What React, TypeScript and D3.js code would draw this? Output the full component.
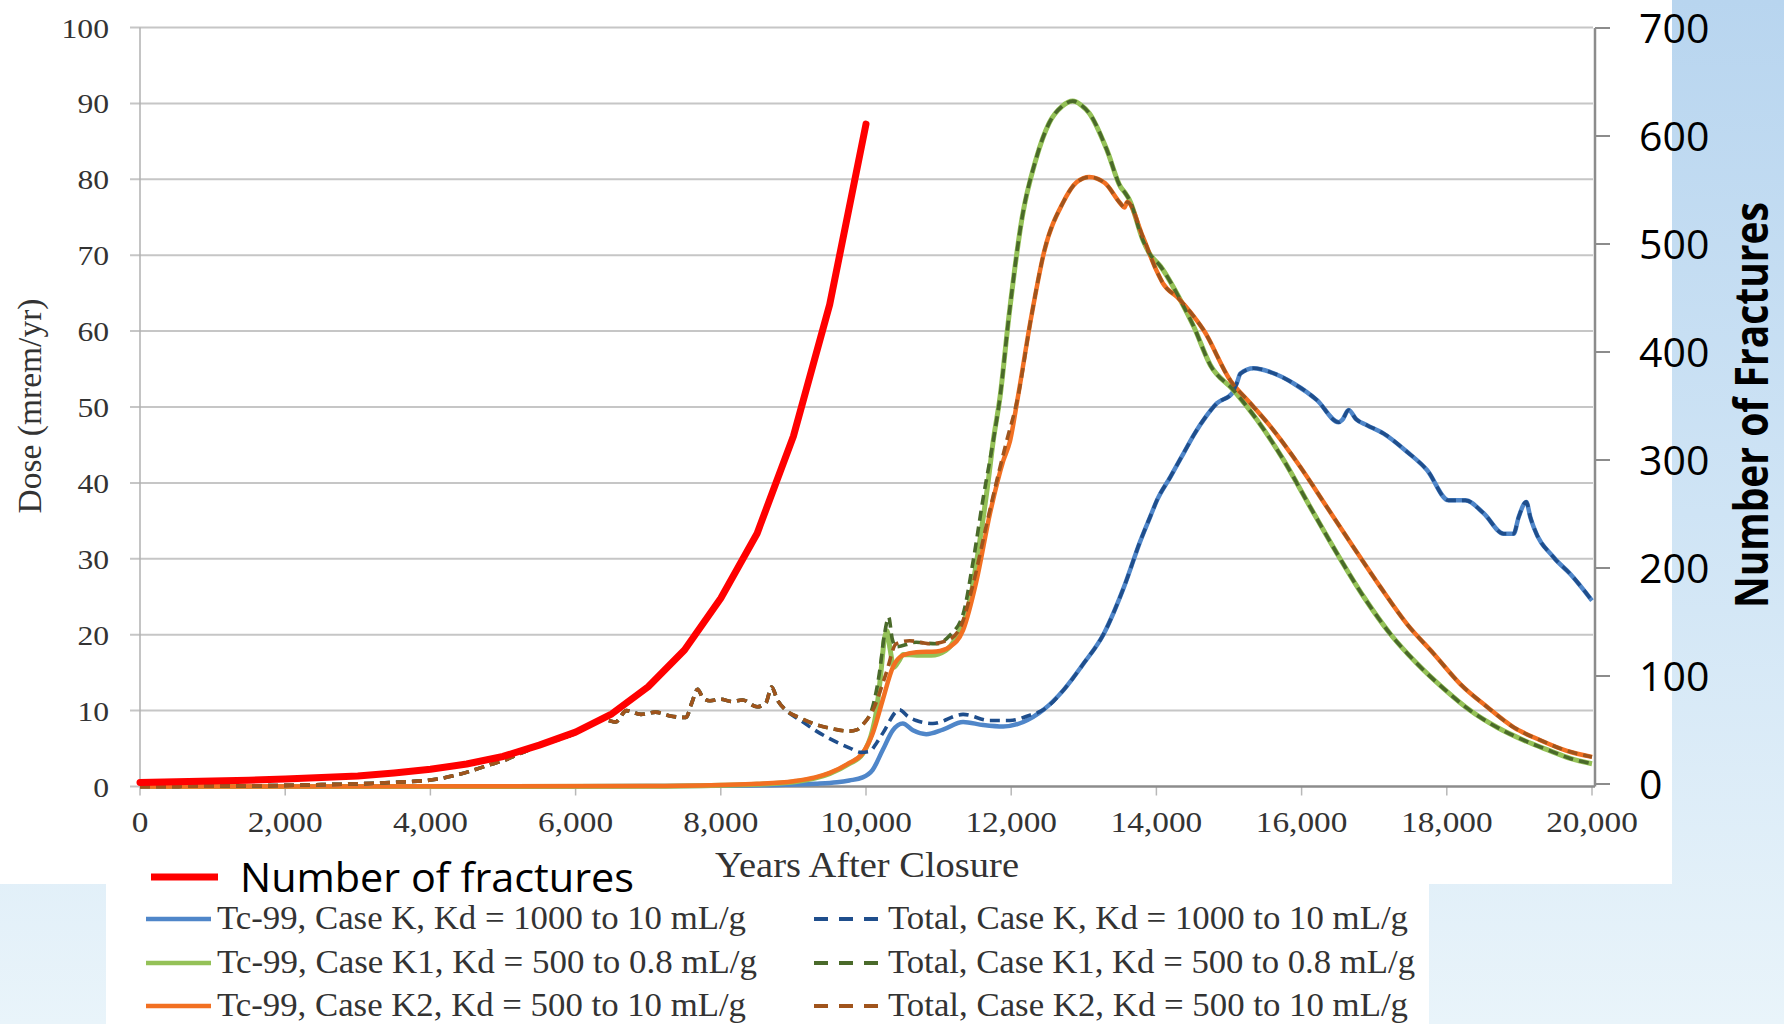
import React from 'react';
import * as d3 from 'd3';

type Pt = [number, number];

// axis ticks
const yearTicks = [0, 2000, 4000, 6000, 8000, 10000, 12000, 14000, 16000, 18000, 20000];
const doseTicks = [0, 10, 20, 30, 40, 50, 60, 70, 80, 90, 100];
const fractureTicks = [0, 100, 200, 300, 400, 500, 600, 700];

// [years after closure, dose mrem/yr]
const tcK: Pt[] = [
  [0, 0], [4000, 0], [6000, 0.02], [7000, 0.05], [8000, 0.1], [8800, 0.2], [9300, 0.35], [9600, 0.55],
  [9770, 0.8], [9954, 1.2], [10092, 2.2], [10230, 4.8], [10369, 7.4], [10507, 8.3], [10646, 7.4],
  [10830, 6.9], [11060, 7.5], [11337, 8.5], [11614, 8.1], [11890, 7.9], [12167, 8.5], [12444, 10.1],
  [12720, 12.7], [12997, 16.2], [13274, 20.1], [13550, 26.2], [13781, 32.4], [13917, 35.6], [14012, 37.8],
  [14193, 40.8], [14380, 44.0], [14514, 46.3], [14687, 48.8], [14835, 50.5], [15042, 51.8], [15110, 53.2],
  [15157, 54.4], [15340, 55.1], [15570, 54.6], [15891, 53.1], [16212, 50.9], [16511, 48.0], [16560, 48.3],
  [16648, 49.6], [16750, 48.4], [16901, 47.6], [17130, 46.5], [17452, 44.1], [17727, 41.7], [18025, 37.7],
  [18255, 37.7], [18507, 36.0], [18783, 33.3], [18921, 33.3], [18990, 35.5], [19095, 37.5], [19150, 35.5],
  [19196, 34.2], [19471, 30.2], [19701, 28.0], [20000, 24.5],
];

const tcK1: Pt[] = [
  [0, 0], [7000, 0.02], [8000, 0.15], [8500, 0.3], [9000, 0.6], [9300, 1.1], [9500, 1.7], [9770, 3.0],
  [9954, 4.3], [10092, 7.5], [10138, 9.6], [10200, 14.5], [10254, 19.5], [10290, 20.5], [10330, 18.2],
  [10383, 15.7], [10450, 16.5], [10514, 17.4], [10700, 17.3], [10900, 17.3], [11094, 17.9], [11245, 19.7],
  [11430, 24.5], [11568, 32.4], [11683, 40.2], [11752, 45.5], [11846, 51.3], [11968, 61.9], [12153, 75.1],
  [12337, 82.5], [12522, 87.4], [12700, 89.6], [12848, 90.3], [12960, 89.8], [13076, 88.7], [13321, 83.8],
  [13506, 79.0], [13570, 78.2], [13629, 77.3], [13814, 72.0], [13900, 70.3], [14059, 68.5], [14330, 64.1],
  [14514, 60.6], [14744, 55.5], [15065, 52.2], [15386, 48.3], [15753, 43.0], [16120, 36.8], [16488, 30.7],
  [16855, 25.0], [17222, 20.1], [17589, 16.2], [17957, 12.9], [18324, 10.0], [18691, 7.8], [19058, 6.1],
  [19425, 4.7], [19700, 3.7], [20000, 3.0],
];

const tcK2: Pt[] = [
  [0, 0], [7000, 0.05], [8000, 0.2], [8500, 0.35], [9000, 0.7], [9300, 1.2], [9500, 1.8], [9770, 3.1],
  [9954, 4.4], [10092, 7.0], [10230, 11.4], [10369, 15.7], [10507, 17.3], [10692, 17.7], [10968, 17.8],
  [11153, 18.4], [11337, 20.6], [11522, 27.1], [11706, 35.9], [11890, 42.9], [11983, 45.5], [12092, 51.3],
  [12277, 61.9], [12460, 70.7], [12707, 76.8], [12900, 79.6], [13076, 80.3], [13291, 79.5], [13506, 76.8],
  [13560, 76.3], [13598, 77.0], [13814, 72.4], [14000, 68.0], [14090, 66.3], [14306, 64.3], [14460, 62.6],
  [14652, 60.1], [15019, 53.5], [15294, 50.5], [15616, 46.9], [15983, 42.1], [16350, 36.8], [16717, 31.5],
  [17084, 26.3], [17452, 21.4], [17819, 17.5], [18186, 13.5], [18553, 10.5], [18921, 7.8], [19288, 6.1],
  [19655, 4.7], [20000, 3.9],
];

// total doses coincide with each other until ~9,000 yrs
const totalCommon: Pt[] = [
  [0, 0], [1000, 0.05], [2000, 0.15], [2500, 0.25], [3000, 0.35], [3500, 0.55], [4000, 0.85], [4400, 1.6],
  [4800, 2.8], [5000, 3.4], [5400, 5.0], [5700, 6.0], [6000, 7.0], [6250, 8.3], [6400, 8.8], [6550, 8.5],
  [6700, 10.0], [6900, 9.5], [7100, 9.8], [7300, 9.3], [7520, 9.1], [7600, 11.0], [7680, 12.8], [7760, 11.6],
  [7850, 11.3], [8000, 11.5], [8150, 11.2], [8300, 11.4], [8500, 10.5], [8620, 11.0], [8700, 13.1],
  [8780, 11.4], [8905, 10.0],
];

const totalKTail: Pt[] = [
  [9100, 8.7], [9300, 7.4], [9500, 6.3], [9770, 5.1], [9931, 4.5], [10046, 4.6], [10150, 5.8], [10230, 7.0],
  [10461, 10.1], [10580, 9.2], [10692, 8.7], [10922, 8.3], [11337, 9.5], [11706, 8.7], [11983, 8.7],
  [12259, 9.4],
];

const totalK1Tail: Pt[] = [
  [9100, 9.0], [9300, 8.2], [9500, 7.7], [9770, 7.3], [9880, 7.5], [9960, 8.2], [10092, 10.5], [10184, 14.9],
  [10254, 20.0], [10313, 22.3], [10360, 19.5], [10415, 18.4], [10692, 19.0], [10968, 18.8], [11153, 19.9],
  [11337, 22.7], [11476, 29.7], [11614, 38.0], [11752, 45.5],
];

const totalK2Tail: Pt[] = [
  [9100, 9.0], [9300, 8.2], [9500, 7.7], [9770, 7.3], [9880, 7.5], [9960, 8.2], [10092, 10.0], [10277, 14.9],
  [10415, 18.8], [10600, 19.2], [10876, 18.8], [11107, 19.2], [11291, 20.8], [11476, 26.7], [11660, 34.5],
  [11845, 42.0], [11937, 45.5],
];

// after these years the totals lie on the Tc-99 curves
const totalK: Pt[] = [...totalCommon, ...totalKTail, ...tcK.filter((d) => d[0] >= 12444)];
const totalK1: Pt[] = [...totalCommon, ...totalK1Tail, ...tcK1.filter((d) => d[0] >= 11846)];
const totalK2: Pt[] = [...totalCommon, ...totalK2Tail, ...tcK2.filter((d) => d[0] >= 12092)];

// [years, number of fractures]
const fractures: Pt[] = [
  [0, 1.5], [500, 2], [1000, 2.8], [1500, 3.5], [2000, 4.6], [2500, 6.0], [3000, 7.5], [3500, 10.2],
  [4000, 13.6], [4500, 18.5], [5000, 25.5], [5500, 36], [6000, 48], [6500, 65], [7000, 90], [7500, 124],
  [8000, 172], [8500, 232], [9000, 322], [9500, 444], [10000, 611],
];

const legendLeft = [
  'Tc-99, Case K, Kd = 1000 to 10 mL/g',
  'Tc-99, Case K1, Kd = 500 to 0.8 mL/g',
  'Tc-99, Case K2, Kd = 500 to 10 mL/g',
];
const legendRight = [
  'Total, Case K, Kd = 1000 to 10 mL/g',
  'Total, Case K1, Kd = 500 to 0.8 mL/g',
  'Total, Case K2, Kd = 500 to 10 mL/g',
];

const serif = '"Liberation Serif", "Times New Roman", serif';
const sans = '"Open Sans", "Noto Sans", sans-serif';

const App = () => {
  const x = d3.scaleLinear().domain([0, 20000]).range([140, 1592]);
  const y = d3.scaleLinear().domain([0, 100]).range([786.5, 27.5]);
  const y2 = d3.scaleLinear().domain([0, 700]).range([784, 28]);

  const doseLine = d3.line<Pt>().x((d) => x(d[0])).y((d) => y(d[1])).curve(d3.curveMonotoneX);
  const fracLine = d3.line<Pt>().x((d) => x(d[0])).y((d) => y2(d[1]));

  const solids = [
    { data: tcK, color: '#4f86c9', w: 4.5 },
    { data: tcK1, color: '#94c157', w: 5 },
    { data: tcK2, color: '#f27022', w: 4.5 },
  ];
  const dashed = [
    { data: totalK, color: '#1f4e8c', w: 3.6 },
    { data: totalK1, color: '#4a6a2a', w: 3.6 },
    { data: totalK2, color: '#a0541c', w: 3.6 },
  ];

  const rowY = [919, 963, 1006];
  const leftLen = [529, 540, 529];
  const rightLen = [520, 527, 520];

  return (
    <svg width={1784} height={1024} style={{ position: 'absolute', left: 0, top: 0, display: 'block' }}>
      <defs>
        <linearGradient id="sky" x1="0" y1="0" x2="0" y2="1">
          <stop offset="0" stopColor="#b8d5ef" />
          <stop offset="0.5" stopColor="#cfe4f5" />
          <stop offset="1" stopColor="#e9f4fa" />
        </linearGradient>
      </defs>
      <rect width={1784} height={1024} fill="url(#sky)" />
      <rect x={0} y={0} width={1672} height={884} fill="#fff" />
      <rect x={106} y={884} width={1323} height={140} fill="#fff" />

      {/* gridlines */}
      {doseTicks.slice(1).map((t) => (
        <line key={t} x1={130} x2={1593} y1={y(t)} y2={y(t)} stroke="#c6c6c6" strokeWidth={2} />
      ))}
      <line x1={130} x2={140} y1={y(0)} y2={y(0)} stroke="#c6c6c6" strokeWidth={2} />
      <line x1={140} x2={140} y1={y(100)} y2={y(0)} stroke="#b0b0b0" strokeWidth={1.5} />

      {/* x axis */}
      {yearTicks.map((t) => (
        <line key={t} x1={x(t)} x2={x(t)} y1={y(0)} y2={y(0) + 9} stroke="#b8b8b8" strokeWidth={1.5} />
      ))}
      <line x1={140} x2={1595} y1={y(0)} y2={y(0)} stroke="#8c8c8c" strokeWidth={2.5} />

      {/* right axis */}
      <line x1={1595} x2={1595} y1={y2(700)} y2={y(0)} stroke="#8c8c8c" strokeWidth={2.5} />
      {fractureTicks.map((t) => (
        <line key={t} x1={1595} x2={1610} y1={y2(t)} y2={y2(t)} stroke="#8c8c8c" strokeWidth={2} />
      ))}

      {/* series */}
      {solids.map((s, i) => (
        <path key={'s' + i} d={doseLine(s.data) || ''} fill="none" stroke={s.color} strokeWidth={s.w}
          strokeLinejoin="round" />
      ))}
      {dashed.map((s, i) => (
        <path key={'d' + i} d={doseLine(s.data) || ''} fill="none" stroke={s.color} strokeWidth={s.w}
          strokeDasharray="10 6" strokeLinejoin="round" />
      ))}
      <path d={fracLine(fractures) || ''} fill="none" stroke="#ff0000" strokeWidth={7}
        strokeLinejoin="round" strokeLinecap="round" />

      {/* left tick labels */}
      {doseTicks.map((t) => (
        <text key={t} transform={`translate(109,${y(t) + 10}) scale(1.13,1)`} textAnchor="end"
          fontFamily={serif} fontSize={28} fill="#333">{t}</text>
      ))}
      {/* bottom tick labels */}
      {yearTicks.map((t) => (
        <text key={t} transform={`translate(${x(t)},832) scale(1.13,1)`} textAnchor="middle"
          fontFamily={serif} fontSize={29.5} fill="#333">{d3.format(',')(t)}</text>
      ))}
      {/* right tick labels */}
      {fractureTicks.map((t) => (
        <text key={t} x={1639} y={y2(t) + 14.5} fontFamily={sans} fontSize={41} fill="#000">{t}</text>
      ))}

      {/* axis titles */}
      <text transform="translate(867,877) scale(1.1,1)" textAnchor="middle" fontFamily={serif}
        fontSize={35} fill="#333">Years After Closure</text>
      <text transform="translate(41,406) rotate(-90)" textAnchor="middle" fontFamily={serif}
        fontSize={33.5} fill="#333">Dose (mrem/yr)</text>
      <text transform="translate(1768,405) rotate(-90)" textAnchor="middle" fontFamily={sans}
        fontWeight="bold" fontSize={46} textLength={406} lengthAdjust="spacingAndGlyphs"
        fill="#000">Number of Fractures</text>

      {/* legend */}
      <line x1={151} x2={218} y1={877} y2={877} stroke="#ff0000" strokeWidth={7} />
      <text x={240} y={892} fontFamily={sans} fontSize={40} textLength={394}
        lengthAdjust="spacingAndGlyphs" fill="#000">Number of fractures</text>
      {legendLeft.map((t, i) => (
        <g key={t}>
          <line x1={146} x2={211} y1={rowY[i]} y2={rowY[i]} stroke={solids[i].color} strokeWidth={4.5} />
          <text x={217} y={rowY[i] + 10} fontFamily={serif} fontSize={34} textLength={leftLen[i]}
            lengthAdjust="spacingAndGlyphs" fill="#333">{t}</text>
        </g>
      ))}
      {legendRight.map((t, i) => (
        <g key={t}>
          <line x1={814} x2={878} y1={rowY[i]} y2={rowY[i]} stroke={dashed[i].color} strokeWidth={4}
            strokeDasharray="14 11" />
          <text x={888} y={rowY[i] + 10} fontFamily={serif} fontSize={34} textLength={rightLen[i]}
            lengthAdjust="spacingAndGlyphs" fill="#333">{t}</text>
        </g>
      ))}
    </svg>
  );
};

export default App;
